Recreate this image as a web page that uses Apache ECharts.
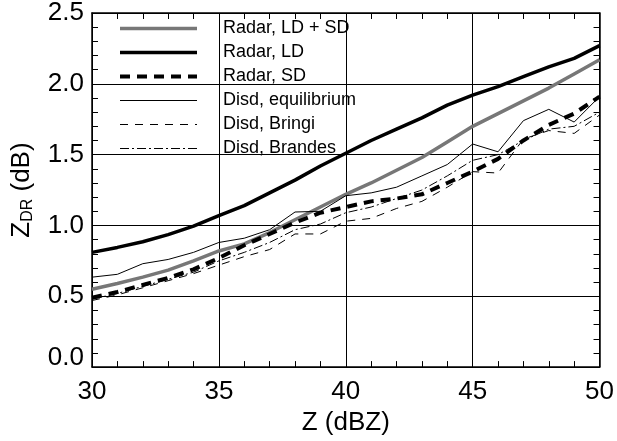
<!DOCTYPE html>
<html>
<head>
<meta charset="utf-8">
<script src="https://cdn.jsdelivr.net/npm/echarts@6/dist/echarts.min.js"></script>
<style>
html,body{margin:0;padding:0;background:#fff;}
#chart{width:617px;height:441px;}
</style>
</head>
<body>
<div id="chart"></div>
<script>
var zValues = [30,31,32,33,34,35,36,37,38,39,40,41,42,43,44,45,46,47,48,49,50];
var radarLDSD = [0.55,0.59,0.635,0.685,0.75,0.82,0.87,0.95,1.04,1.13,1.22,1.30,1.39,1.48,1.59,1.70,1.79,1.88,1.97,2.07,2.17];
var radarLD = [0.81,0.845,0.885,0.935,0.995,1.07,1.14,1.23,1.32,1.42,1.51,1.60,1.68,1.76,1.85,1.92,1.98,2.05,2.12,2.18,2.27];
var radarSD = [0.49,0.53,0.58,0.63,0.69,0.77,0.86,0.94,1.02,1.09,1.13,1.17,1.19,1.22,1.30,1.38,1.47,1.60,1.71,1.79,1.91];
var disdEquil = [0.635,0.655,0.73,0.76,0.81,0.88,0.91,0.97,1.095,1.10,1.21,1.23,1.27,1.35,1.43,1.575,1.52,1.74,1.82,1.73,1.91];
var disdBringi = [0.47,0.51,0.56,0.61,0.66,0.72,0.78,0.83,0.94,0.94,1.03,1.05,1.12,1.17,1.27,1.38,1.37,1.61,1.67,1.65,1.78];
var disdBrandes = [0.48,0.52,0.57,0.62,0.67,0.75,0.81,0.88,0.97,1.01,1.09,1.13,1.19,1.25,1.35,1.46,1.50,1.60,1.68,1.70,1.80];
var seriesNames = ['Radar, LD + SD','Radar, LD','Radar, SD','Disd, equilibrium','Disd, Bringi','Disd, Brandes'];
var xTickLabels = ['30','35','40','45','50'];
var yTickLabels = ['0.0','0.5','1.0','1.5','2.0','2.5'];

function pairs(arr){ return zValues.map(function(z,i){ return [z, arr[i]]; }); }

var FONT = 'Liberation Sans, Arial, Helvetica, sans-serif';
var chart = echarts.init(document.getElementById('chart'));

function axisCommon(extra){
  var base = {
    type:'value',
    axisLine:{show:true, onZero:false, lineStyle:{color:'#000', width:1.5}},
    axisTick:{show:true, inside:true, length:7, lineStyle:{color:'#000', width:1}},
    minorTick:{show:true, splitNumber:5, length:6, lineStyle:{color:'#000', width:1}},
    minorSplitLine:{show:false}
  };
  for (var k in extra) base[k] = extra[k];
  return base;
}

var option = {
  animation:false,
  backgroundColor:'#fff',
  grid:{left:92, right:13, top:10, bottom:68, containLabel:false},
  legend:{
    orient:'vertical', left:118, top:19, padding:0,
    itemWidth:77, itemHeight:18, itemGap:5,
    data:seriesNames,
    itemStyle:{opacity:0, borderWidth:0},
    lineStyle:{width:'inherit', type:'inherit', color:'inherit'},
    textStyle:{fontFamily:FONT, fontSize:18, lineHeight:19, color:'#000', padding:[0,0,0,21]},
    selectedMode:false
  },
  xAxis:[
    axisCommon({
      position:'bottom', min:30, max:50, interval:5,
      name:'Z (dBZ)', nameLocation:'middle', nameGap:40,
      nameTextStyle:{fontFamily:FONT, fontSize:26, color:'#000'},
      axisLabel:{show:true, margin:12, fontFamily:FONT, fontSize:26, color:'#000',
        formatter:function(v){ var i = xTickLabels.indexOf(String(v)); return i>=0 ? xTickLabels[i] : ''; }},
      splitLine:{show:true, lineStyle:{color:'#000', width:1}}
    }),
    axisCommon({
      position:'top', min:30, max:50, interval:5,
      axisLabel:{show:false}, splitLine:{show:false}
    })
  ],
  yAxis:[
    axisCommon({
      position:'left', min:0, max:2.5, interval:0.5,
      name:'{a|Z}{b|DR}{a| (dB)}', nameLocation:'middle', nameGap:56,
      nameTextStyle:{fontFamily:FONT, color:'#000',
        rich:{
          a:{fontFamily:FONT, fontSize:26, lineHeight:28, color:'#000'},
          b:{fontFamily:FONT, fontSize:16, lineHeight:14, verticalAlign:'bottom', color:'#000'}
        }},
      axisLabel:{show:true, margin:8, fontFamily:FONT, fontSize:26, color:'#000',
        formatter:function(v){ var s = v.toFixed(1); if (yTickLabels.indexOf(s) < 0) return ''; return s === '0.0' ? '{z|' + s + '}' : s; },
        rich:{z:{fontFamily:FONT, fontSize:26, color:'#000', padding:[0,0,18,0]}}},
      splitLine:{show:true, lineStyle:{color:'#000', width:1}}
    }),
    axisCommon({
      position:'right', min:0, max:2.5, interval:0.5,
      axisLabel:{show:false}, splitLine:{show:false}
    })
  ],
  series:[
    {name:seriesNames[0], type:'line', data:pairs(radarLDSD), symbol:'none', z:3,
      lineStyle:{color:'#777', width:3.5, type:'solid'}, itemStyle:{color:'#777'}},
    {name:seriesNames[1], type:'line', data:pairs(radarLD), symbol:'none', z:3,
      lineStyle:{color:'#000', width:3.5, type:'solid'}, itemStyle:{color:'#000'}},
    {name:seriesNames[2], type:'line', data:pairs(radarSD), symbol:'none', z:3,
      lineStyle:{color:'#000', width:4, type:[10,7]}, itemStyle:{color:'#000'}},
    {name:seriesNames[3], type:'line', data:pairs(disdEquil), symbol:'none', z:4,
      lineStyle:{color:'#000', width:1, type:'solid'}, itemStyle:{color:'#000'}},
    {name:seriesNames[4], type:'line', data:pairs(disdBringi), symbol:'none', z:4,
      lineStyle:{color:'#000', width:1, type:[8,7]}, itemStyle:{color:'#000'}},
    {name:seriesNames[5], type:'line', data:pairs(disdBrandes), symbol:'none', z:4,
      lineStyle:{color:'#000', width:1, type:[9,3,2,3]}, itemStyle:{color:'#000'}}
  ]
};
chart.setOption(option);
</script>
</body>
</html>
